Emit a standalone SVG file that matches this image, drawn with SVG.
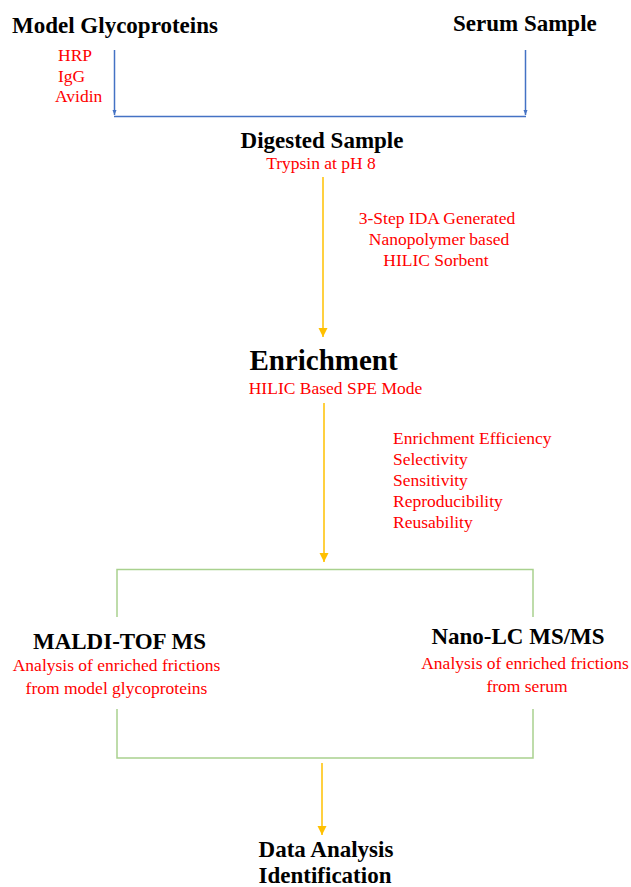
<svg xmlns="http://www.w3.org/2000/svg" width="631" height="887" viewBox="0 0 631 887">
<style>
.t{font-family:"Times New Roman","Liberation Serif",Tinos,"DejaVu Serif",serif;font-weight:bold;fill:#000}
.r{font-family:"Times New Roman","Liberation Serif",Tinos,"DejaVu Serif",serif;fill:#FF0000;font-size:17.5px}
.b{stroke:#4472C4;stroke-width:1.5;fill:none}
.y{stroke:#FFC000;stroke-width:1.5;fill:none}
.g{stroke:#A9D18E;stroke-width:1.5;fill:none}
</style>
<defs>
<marker id="ab" markerWidth="6" markerHeight="6" refX="5" refY="3" orient="auto" markerUnits="userSpaceOnUse"><path d="M0,1 L5,3 L0,5 z" fill="#4472C4"/></marker>
<marker id="ay" markerWidth="10" markerHeight="10" refX="9" refY="5" orient="auto" markerUnits="userSpaceOnUse"><path d="M0,0.5 L9,5 L0,9.5 z" fill="#FFC000"/></marker>
</defs>
<rect width="631" height="887" fill="#fff"/>
<g id="connectors">
<line class="b" x1="114.5" y1="50" x2="114.5" y2="115" marker-end="url(#ab)"/>
<line class="b" x1="525.5" y1="50" x2="525.5" y2="115" marker-end="url(#ab)"/>
<line class="b" x1="114" y1="116.5" x2="526" y2="116.5"/>
<line class="y" x1="323" y1="177" x2="323" y2="337" marker-end="url(#ay)"/>
<line class="y" x1="324" y1="403" x2="324" y2="562" marker-end="url(#ay)"/>
<polyline class="g" points="117,617 117,569.5 533,569.5 533,617"/>
<polyline class="g" points="117,709 117,758 533,758 533,709"/>
<line class="y" x1="322" y1="763" x2="322" y2="835" marker-end="url(#ay)"/>
</g>
<g id="model-glycoproteins">
<text class="t" x="12" y="33" font-size="23">Model Glycoproteins</text>
<text class="r" x="58" y="61">HRP</text>
<text class="r" x="58" y="82">IgG</text>
<text class="r" x="55" y="102">Avidin</text>
</g>
<g id="serum-sample">
<text class="t" x="453" y="31" font-size="23">Serum Sample</text>
</g>
<g id="digested-sample">
<text class="t" x="322" y="148" font-size="23" text-anchor="middle">Digested Sample</text>
<text class="r" x="321" y="169" text-anchor="middle">Trypsin at pH 8</text>
</g>
<g id="sorbent-note">
<text class="r" x="437" y="224" text-anchor="middle">3-Step IDA Generated</text>
<text class="r" x="439" y="245" text-anchor="middle">Nanopolymer based</text>
<text class="r" x="436" y="266" text-anchor="middle">HILIC Sorbent</text>
</g>
<g id="enrichment">
<text class="t" x="323.5" y="370" font-size="29" text-anchor="middle">Enrichment</text>
<text class="r" x="335.5" y="394" text-anchor="middle">HILIC Based SPE Mode</text>
</g>
<g id="metrics">
<text class="r" x="393" y="444">Enrichment Efficiency</text>
<text class="r" x="393" y="465">Selectivity</text>
<text class="r" x="393" y="486">Sensitivity</text>
<text class="r" x="393" y="507">Reproducibility</text>
<text class="r" x="393" y="528">Reusability</text>
</g>
<g id="maldi-tof">
<text class="t" x="119.5" y="649" font-size="23" text-anchor="middle">MALDI-TOF MS</text>
<text class="r" x="116.5" y="671" text-anchor="middle">Analysis of enriched frictions</text>
<text class="r" x="116.5" y="694" text-anchor="middle">from model glycoproteins</text>
</g>
<g id="nano-lc">
<text class="t" x="518" y="644" font-size="23" text-anchor="middle">Nano-LC MS/MS</text>
<text class="r" x="525" y="669" text-anchor="middle">Analysis of enriched frictions</text>
<text class="r" x="527" y="692" text-anchor="middle">from serum</text>
</g>
<g id="data-analysis">
<text class="t" x="326" y="857" font-size="23" text-anchor="middle">Data Analysis</text>
<text class="t" x="325" y="883" font-size="23" text-anchor="middle">Identification</text>
</g>
</svg>
